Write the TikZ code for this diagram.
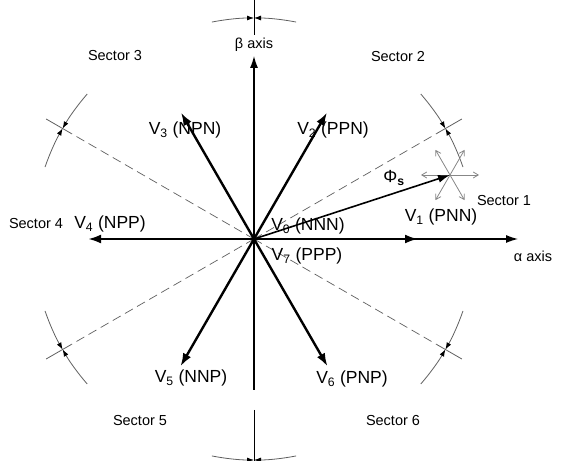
\documentclass[tikz,border=0pt]{standalone}
\usepackage{fontspec}
\setmainfont{Liberation Sans}
\usetikzlibrary{arrows.meta,calc}
\definecolor{colTrait}{RGB}{95,95,95}
\definecolor{colEtoile}{RGB}{135,135,135}

\begin{document}
\begin{tikzpicture}[x=1pt,y=1pt,
    vec/.style={line width=2.4pt, -{Latex[length=13pt,width=9pt]}},
    axe/.style={line width=1.1pt, -{Latex[length=12pt,width=8pt]}},
    flux/.style={line width=1.6pt, -{Latex[length=12pt,width=8pt]}},
    sep/.style={colTrait, line width=0.7pt, dash pattern=on 9pt off 5pt},
    trait/.style={colTrait, line width=0.8pt},
    cote/.style={colTrait, line width=0.8pt,
      -{Latex[length=7pt,width=5pt,black]}},
    etoile/.style={colEtoile, line width=0.8pt,
      -{Straight Barb[length=5pt,width=6pt]}},
    lab/.style={font=\fontsize{17.5}{17.5}\selectfont, inner sep=0pt},
    sec/.style={font=\fontsize{14.5}{14.5}\selectfont, inner sep=0pt}]
  \useasboundingbox (0,0) rectangle (566,461);
  \coordinate (O) at (254,222);
  \foreach \t in {30,150,210,330}{
    \coordinate (d\t) at ($(O)+(\t:211pt)$);
    \coordinate (ti\t) at ($(O)+(\t:211pt)$);
    \coordinate (to\t) at ($(O)+(\t:240pt)$);
    \draw[sep] (O) -- (d\t);
    \draw[trait] (ti\t) -- (to\t);
  }
  \foreach \t in {30,90,150,210,270,330}{
    \coordinate (ca\t) at ($(O)+(\t+11:221pt)$);
    \coordinate (cb\t) at ($(O)+(\t-11:221pt)$);
    \draw[cote] (ca\t) arc[start angle=\t+11, end angle=\t, radius=221pt];
    \draw[cote] (cb\t) arc[start angle=\t-11, end angle=\t, radius=221pt];
  }
  \coordinate (bt1) at (254,426); \coordinate (bt2) at (254,461);
  \coordinate (bb1) at (254,51); \coordinate (bb2) at (254,0);
  \draw[trait, black] (bt1) -- (bt2);
  \draw[trait, black] (bb1) -- (bb2);
  \coordinate (bb) at (254,71); \coordinate (bx) at (254,405);
  \coordinate (ax) at (518,222);
  \draw[axe] (bb) -- (bx);
  \draw[axe] (O) -- (ax);
  \coordinate (v1) at (418,222); \coordinate (v4) at (88,222);
  \coordinate (v2) at ($(O)+(60:146pt)$);
  \coordinate (v3) at ($(O)+(120:146pt)$);
  \coordinate (v5) at ($(O)+(240:147pt)$);
  \coordinate (v6) at ($(O)+(300:147pt)$);
  \foreach \v in {v1,v2,v3,v4,v5,v6} \draw[vec] (O) -- (\v);
  \coordinate (phi) at (450,286);
  \foreach \a in {0,60,...,300}{
    \coordinate (s\a) at ($(phi)+(\a:29pt)$);
    \draw[etoile] (phi) -- (s\a);
  }
  \draw[flux] (O) -- (phi);
  \node[lab] (l1) at (441,244) {V\textsubscript{1} (PNN)};
  \node[lab] (l2) at (333,331) {V\textsubscript{2} (PPN)};
  \node[lab] (l3) at (185,331) {V\textsubscript{3} (NPN)};
  \node[lab] (l4) at (110,237) {V\textsubscript{4} (NPP)};
  \node[lab] (l5) at (191,83) {V\textsubscript{5} (NNP)};
  \node[lab] (l6) at (352,82) {V\textsubscript{6} (PNP)};
  \node[lab] (l0) at (308,235) {V\textsubscript{0} (NNN)};
  \node[lab] (l7) at (307,205) {V\textsubscript{7} (PPP)};
  \node[lab] (lphi) at (394,283) {Φ\textsubscript{\textbf{s}}};
  \node[sec] (la) at (533,205) {α axis};
  \node[sec] (lb) at (254,416) {β axis};
  \node[sec] (s1) at (504,260) {Sector 1};
  \node[sec] (s2) at (398,404) {Sector 2};
  \node[sec] (s3) at (115,405) {Sector 3};
  \node[sec] (s4) at (36,237) {Sector 4};
  \node[sec] (s5) at (140,40) {Sector 5};
  \node[sec] (s6) at (393,40) {Sector 6};
\end{tikzpicture}
\end{document}
